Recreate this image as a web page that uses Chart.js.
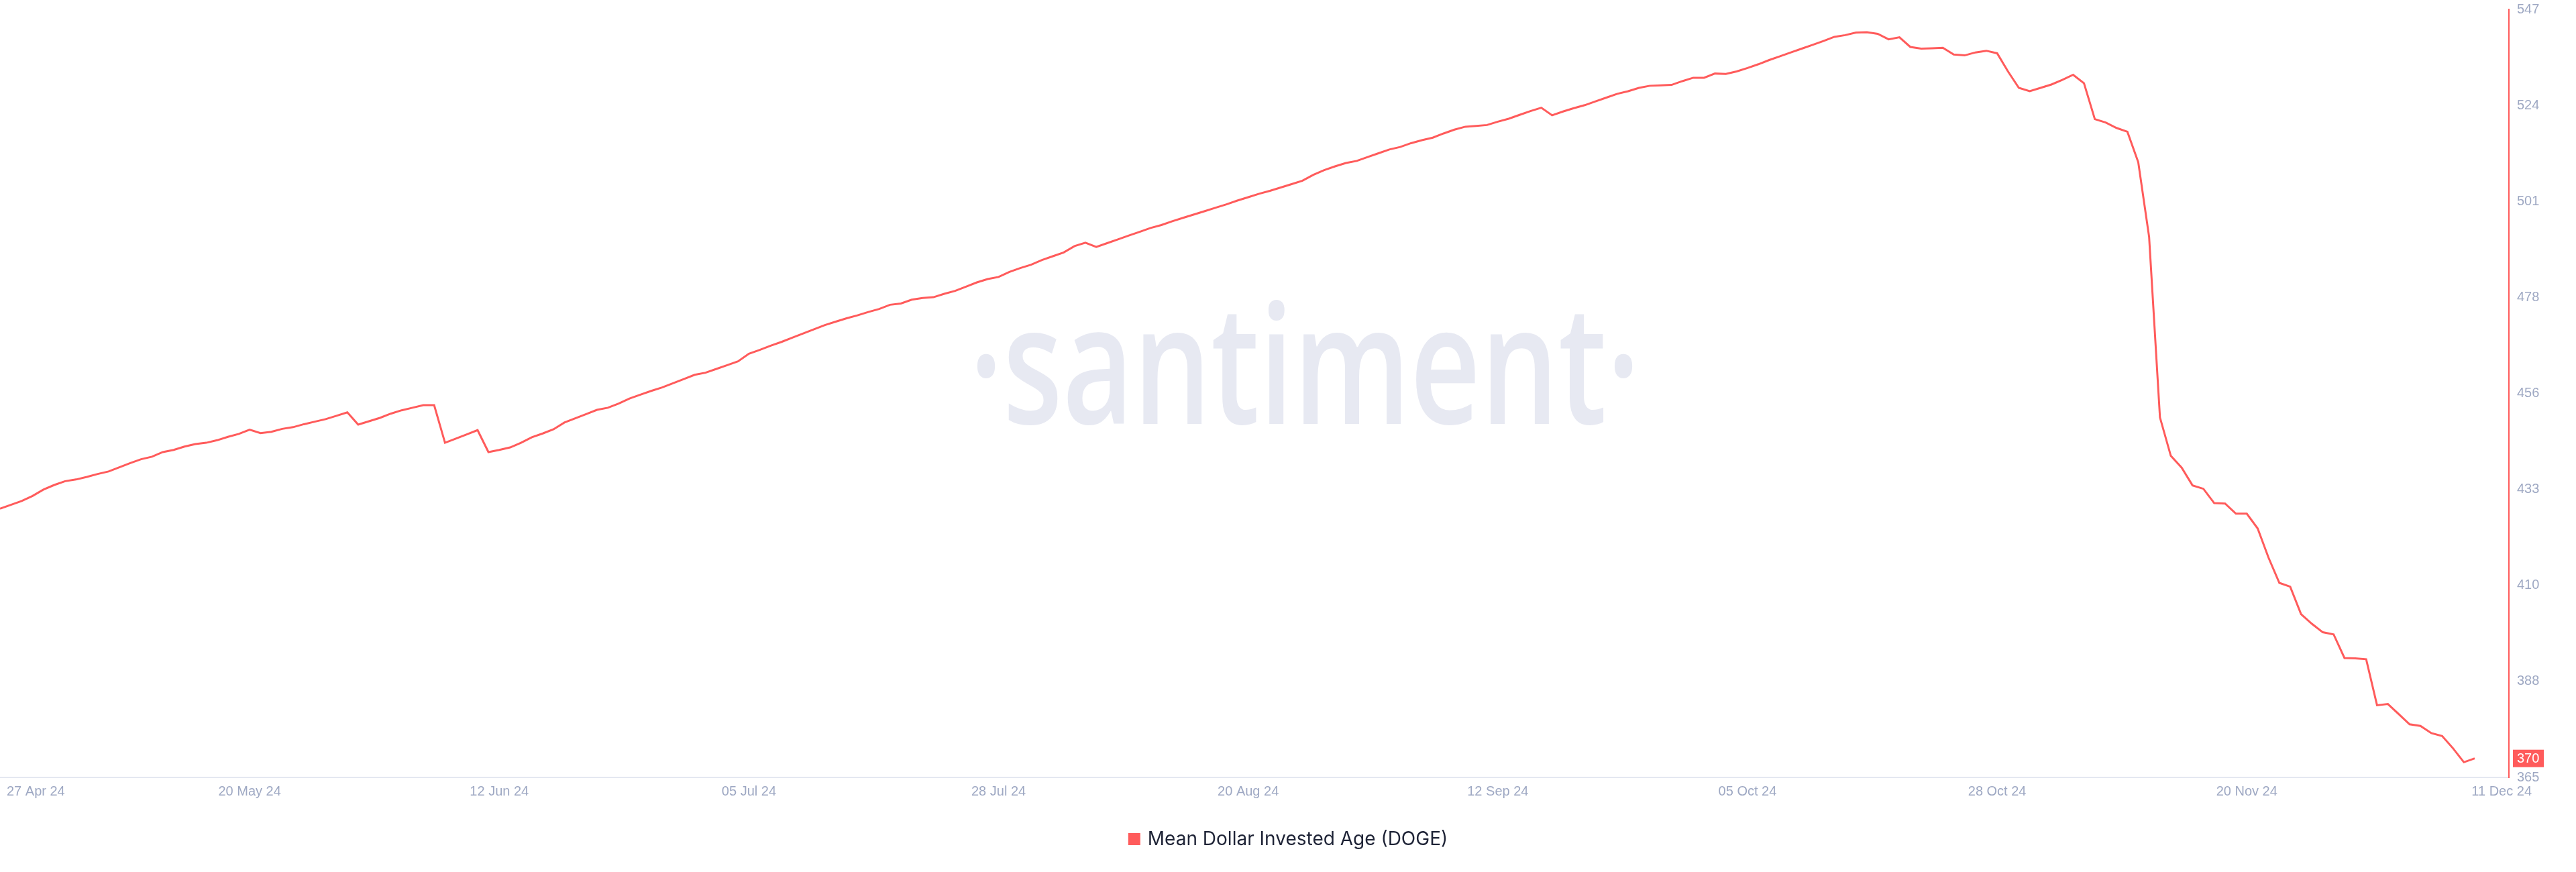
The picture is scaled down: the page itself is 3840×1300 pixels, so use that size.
<!DOCTYPE html>
<html>
<head>
<meta charset="utf-8">
<script src="https://cdn.jsdelivr.net/npm/chart.js@4.4.1/dist/chart.umd.min.js"></script>
<style>
    html, body {
        margin: 0;
        padding: 0;
        background: #ffffff;
    }
    canvas {
        display: block;
    }
</style>
</head>
<body>

<canvas id="mdiaChart" width="3840" height="1300"></canvas>

<script>

// one value per day, 27 Apr 24 -> 11 Dec 24
const seriesLabel =
    "Mean Dollar Invested Age (DOGE)";

const mdiaValues = [
    428.7, 429.6, 430.5, 431.7, 433.2, 434.3, 435.2, 435.6, 436.2, 436.9,
    437.5, 438.5, 439.5, 440.4, 441.0, 442.1, 442.6, 443.4, 444.0, 444.3,
    444.9, 445.7, 446.4, 447.4, 446.6, 446.9, 447.6, 448.0, 448.7, 449.3,
    449.9, 450.7, 451.5, 448.6, 449.4, 450.2, 451.2, 452.0, 452.6, 453.2,
    453.2, 444.3, 445.3, 446.3, 447.3, 442.1, 442.6, 443.2, 444.3, 445.6,
    446.5, 447.5, 449.1, 450.1, 451.1, 452.1, 452.6, 453.6, 454.8, 455.7,
    456.6, 457.4, 458.4, 459.4, 460.4, 460.9, 461.8, 462.7, 463.6, 465.4,
    466.3, 467.3, 468.2, 469.2, 470.2, 471.2, 472.2, 473.0, 473.8, 474.5,
    475.3, 476.0, 477.0, 477.3, 478.2, 478.6, 478.8, 479.6, 480.3, 481.3,
    482.3, 483.1, 483.6, 484.8, 485.7, 486.5, 487.6, 488.5, 489.4, 490.9,
    491.7, 490.7, 491.6, 492.5, 493.4, 494.3, 495.2, 495.9, 496.8, 497.6,
    498.4, 499.2, 500.0, 500.8, 501.7, 502.5, 503.3, 504.0, 504.8, 505.6,
    506.4, 507.8, 508.9, 509.8, 510.6, 511.1, 512.0, 512.9, 513.8, 514.4,
    515.3, 516.0, 516.6, 517.6, 518.5, 519.2, 519.4, 519.6, 520.4, 521.1,
    522.0, 522.9, 523.7, 521.9, 522.8, 523.6, 524.3, 525.2, 526.1, 527.0,
    527.6, 528.4, 528.9, 529.0, 529.1, 530.0, 530.8, 530.8, 531.8, 531.7,
    532.3, 533.1, 534.0, 535.0, 535.9, 536.8, 537.7, 538.6, 539.5, 540.5,
    540.9, 541.5, 541.6, 541.2, 539.9, 540.4, 538.1, 537.7, 537.8, 537.9,
    536.3, 536.1, 536.8, 537.2, 536.6, 532.3, 528.4, 527.6, 528.4, 529.2,
    530.3, 531.5, 529.5, 521.0, 520.2, 518.9, 518.0, 510.8, 493.1, 450.3,
    441.2, 438.4, 434.2, 433.4, 430.0, 429.9, 427.5, 427.5, 424.0, 417.1,
    411.1, 410.2, 403.7, 401.4, 399.4, 398.9, 393.3, 393.2, 393.0, 382.1,
    382.4, 380.0, 377.6, 377.2, 375.5, 374.8, 371.9, 368.6, 369.5
];

// x ticks: day offset from 27 Apr 24 and the label shown
const xTickDays = [
    0, 23, 46, 69, 92, 115, 138, 161, 184, 207, 228
];

const xTickLabels = [
    "27 Apr 24", "20 May 24", "12 Jun 24", "05 Jul 24",
    "28 Jul 24", "20 Aug 24", "12 Sep 24", "05 Oct 24",
    "28 Oct 24", "20 Nov 24", "11 Dec 24"
];

const yMin = 365;
const yMax = 547;

const yTickLabels = [
    "365", "388", "410", "433", "456", "478", "501", "524", "547"
];


const RED = "#ff5b5b";
const TICK_COLOR = "#9ea8c3";
const TICK_FONT = "20px 'Liberation Sans', Arial, sans-serif";


const overlay = {

    id: "overlay",

    beforeDatasetsDraw(chart) {

        const ctx = chart.ctx;

        // santiment watermark
        ctx.save();
        ctx.font = "600 247px 'Open Sans'";
        ctx.fillStyle = "#e7e9f2";
        ctx.textBaseline = "alphabetic";
        ctx.textAlign = "center";

        const text = "\u00B7santiment\u00B7";
        const w = ctx.measureText(text).width;
        const sx = 1000 / w;

        ctx.translate(1945, 632);
        ctx.scale(sx, 1);
        ctx.fillText(text, 0, 0);
        ctx.restore();
    },

    afterDraw(chart) {

        const ctx = chart.ctx;
        const xs = chart.scales.x;
        const ys = chart.scales.y;

        // x labels
        ctx.save();
        ctx.font = TICK_FONT;
        ctx.fillStyle = TICK_COLOR;
        ctx.textBaseline = "middle";

        xTickDays.forEach((d, i) => {

            const px = xs.getPixelForValue(d);

            if (i === 0) {
                ctx.textAlign = "left";
                ctx.fillText(xTickLabels[i], px + 10, 1180);
            } else if (i === xTickDays.length - 1) {
                ctx.textAlign = "right";
                ctx.fillText(xTickLabels[i], xs.right + 34, 1180);
            } else {
                ctx.textAlign = "center";
                ctx.fillText(xTickLabels[i], px, 1180);
            }
        });
        ctx.restore();

        // last value badge
        const last = mdiaValues[mdiaValues.length - 1];
        const py = ys.getPixelForValue(last);

        ctx.save();
        ctx.fillStyle = RED;
        ctx.fillRect(ys.left + 6, py - 13, 46, 26);
        ctx.font = TICK_FONT;
        ctx.fillStyle = "#ffffff";
        ctx.textAlign = "left";
        ctx.textBaseline = "middle";
        ctx.fillText(String(Math.round(last)), ys.left + 12, py + 1);
        ctx.restore();

        // legend
        ctx.save();
        ctx.font = "28px Inter, 'Noto Sans', sans-serif";
        const tw = ctx.measureText(seriesLabel).width;
        const total = 18 + 11 + tw;
        const lx = chart.width / 2 - total / 2;

        ctx.fillStyle = RED;
        ctx.fillRect(lx, 1242, 18, 18);

        ctx.fillStyle = "#1e2336";
        ctx.textAlign = "left";
        ctx.textBaseline = "middle";
        ctx.fillText(seriesLabel, lx + 29, 1252);
        ctx.restore();
    }
};


new Chart(

    document.getElementById(
        "mdiaChart"
    ),

    {
        type: "line",

        data: {

            datasets: [

                {
                    label:
                        seriesLabel,

                    data:
                        mdiaValues.map((v, i) => ({ x: i, y: v })),

                    borderColor: RED,
                    borderWidth: 3,
                    pointRadius: 0,
                    tension: 0,
                    fill: false
                }
            ]
        },

        options: {

            responsive: false,
            animation: false,
            devicePixelRatio: 1,

            layout: {
                padding: {
                    top: 14,
                    bottom: 141,
                    left: 0,
                    right: 0
                }
            },

            plugins: {
                legend: { display: false },
                tooltip: { enabled: false }
            },

            scales: {

                x: {
                    type: "linear",
                    min: 0,
                    max: 231.15,
                    ticks: { display: false },
                    grid: { display: false, drawTicks: false },
                    border: { display: true, color: "#e4e8f1", width: 2 },
                    afterFit(scale) {
                        scale.height = 0;
                    }
                },

                y: {
                    type: "linear",
                    position: "right",
                    min: yMin,
                    max: yMax,
                    grid: { display: false, drawTicks: false },
                    border: { display: true, color: RED, width: 2 },
                    afterBuildTicks(scale) {
                        const step = (yMax - yMin) / (yTickLabels.length - 1);
                        scale.ticks = yTickLabels.map((t, i) => ({ value: yMin + step * i }));
                    },
                    ticks: {
                        padding: 12,
                        color: TICK_COLOR,
                        font: { size: 20, family: "'Liberation Sans', Arial, sans-serif" },
                        callback(value, index) {
                            return yTickLabels[index];
                        }
                    },
                    afterFit(scale) {
                        scale.width = 100;
                        scale.paddingTop = 0;
                        scale.paddingBottom = 0;
                    }
                }
            }
        },

        plugins: [overlay]
    }
);

</script>
</body>
</html>
